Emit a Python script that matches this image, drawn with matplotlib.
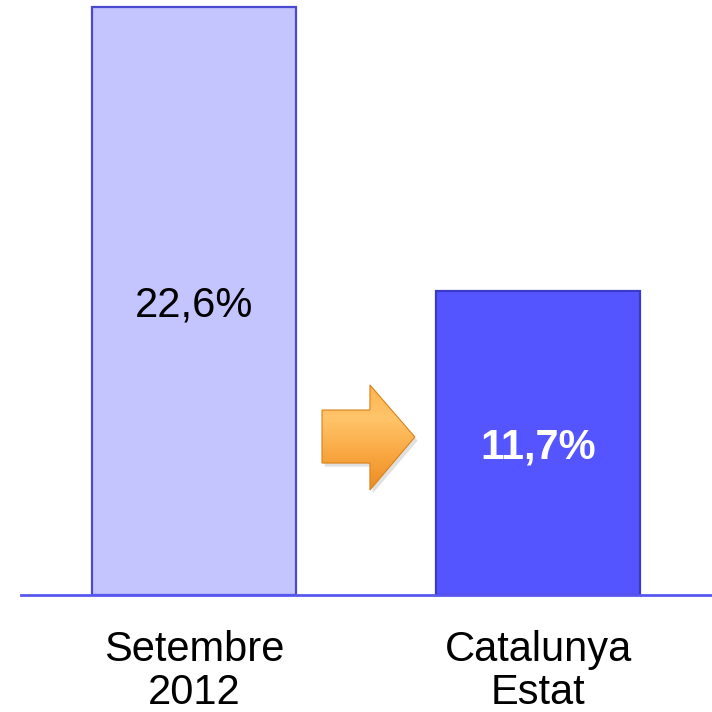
import matplotlib.pyplot as plt
import numpy as np
from matplotlib.patches import Polygon
from matplotlib.colors import LinearSegmentedColormap

categories = ["Setembre\n2012", "Catalunya\nEstat"]
values = [22.6, 11.7]
value_labels = ["22,6%", "11,7%"]

plt.rcParams["font.family"] = ["Liberation Sans", "DejaVu Sans"]

fig = plt.figure(figsize=(7.12, 7.12), dpi=100)
ax = fig.add_axes([21 / 712, 117 / 712, 691 / 712, 595 / 712])

fills = ["#c4c4ff", "#5555ff"]
edges = ["#4a4ad0", "#3a3ac8"]
x = np.arange(len(values))
ax.bar(x, values, width=0.592, color=fills, edgecolor=edges, linewidth=1.6, zorder=2)

for s in ["top", "right", "left"]:
    ax.spines[s].set_visible(False)
ax.spines["bottom"].set_color("#5858f0")
ax.spines["bottom"].set_linewidth(2)
ax.set_yticks([])
ax.set_xticks(x)
ax.set_xticklabels(categories, fontsize=30, linespacing=1.12)
ax.tick_params(axis="x", length=0, pad=25)

# values in the middle of each bar
ax.text(x[0], values[0] / 2, value_labels[0], ha="center", va="center_baseline",
        fontsize=30, color="black", zorder=3)
ax.text(x[1], values[1] / 2, value_labels[1], ha="center", va="center_baseline",
        fontsize=30, color="white", fontweight="bold", zorder=3)

# orange arrow between the bars (axes fraction)
arrow_pts = [(0.4356, 0.3109), (0.505, 0.3109), (0.505, 0.353), (0.570, 0.2655),
             (0.505, 0.1765), (0.505, 0.2218), (0.4356, 0.2218)]
shadow = Polygon([(px + 0.004, py - 0.006) for px, py in arrow_pts], closed=True,
                 transform=ax.transAxes, facecolor="#999999", alpha=0.3,
                 edgecolor="none", zorder=3)
ax.add_patch(shadow)
arrow = Polygon(arrow_pts, closed=True, transform=ax.transAxes,
                facecolor="none", edgecolor="#d8821a", linewidth=0.8, zorder=5)
ax.add_patch(arrow)
grad = np.linspace(0, 1, 100).reshape(-1, 1)
orange = LinearSegmentedColormap.from_list("org", ["#e88a20", "#f9a640", "#ffc46a", "#ffb24c"])
img = ax.imshow(grad, extent=[0.43, 0.575, 0.17, 0.36], transform=ax.transAxes,
                cmap=orange, origin="lower", aspect="auto", zorder=4)
img.set_clip_path(arrow)
ax.set_ylim(0, 595 / 26)
ax.set_xlim(-0.502, 1.504)

fig.savefig("out.png", dpi=100)
